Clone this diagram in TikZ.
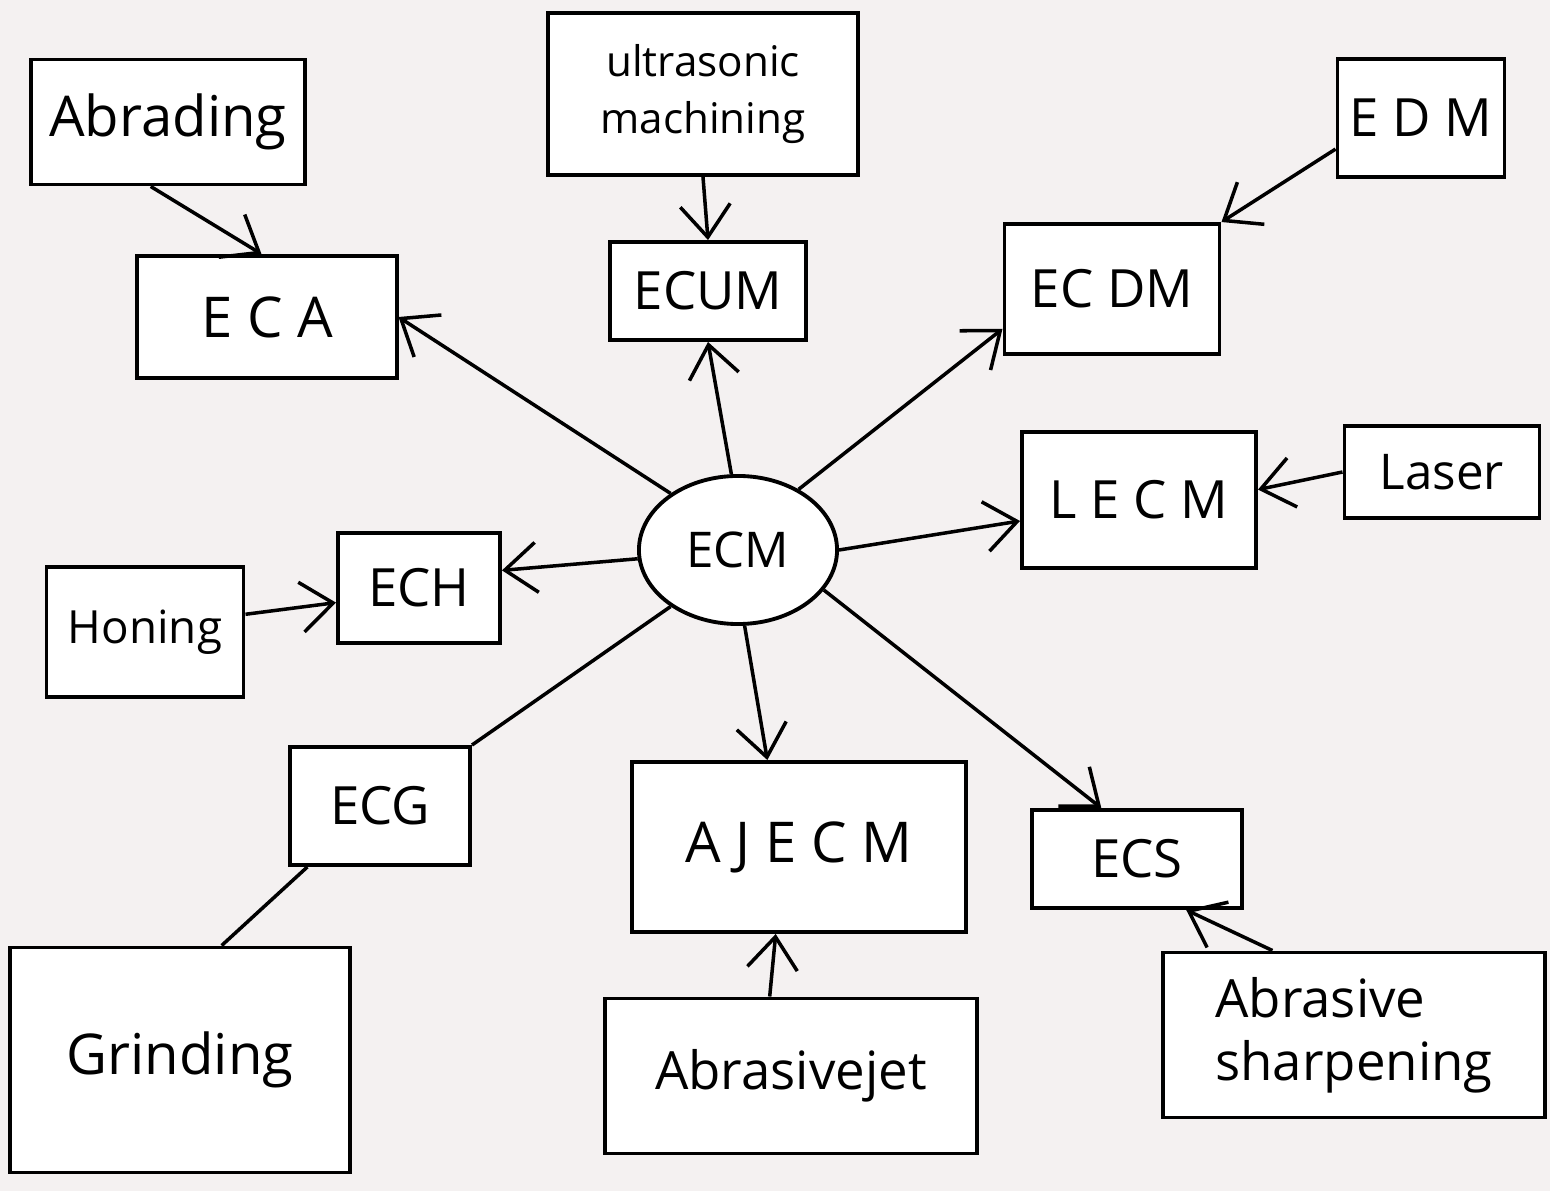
\documentclass[tikz,border=0pt]{standalone}
\usepackage{fontspec}
\setmainfont{Open Sans}
\usetikzlibrary{shapes.geometric,arrows.meta}
\newcommand{\fsz}[2]{\fontsize{#1}{#2}\selectfont}
\tikzset{
  box/.style={draw=black, line width=1.1pt, fill=white, inner sep=2pt, align=center},
  oval/.style={draw=black, line width=1.1pt, fill=white, ellipse},
  arr/.style={draw=black, line width=1pt, -{Straight Barb[length=3.2mm,width=5mm,line width=1pt]}},
  ln/.style={draw=black, line width=1pt},
}
\begin{document}
\begin{tikzpicture}[x=0.01cm,y=-0.01cm]
\useasboundingbox (0,0) rectangle (1550,1191);
\fill[color={rgb,255:red,244;green,241;blue,241}] (0,0) rectangle (1550,1191);

% nodes
\node[box, minimum width=2.73cm, minimum height=1.25cm, font=\fsz{16}{19}] (abr) at (168,122) {Abrading};
\node[box, minimum width=2.59cm, minimum height=1.22cm, font=\fsz{16}{19}] (eca) at (267,317) {E C A};
\node[box, minimum width=3.1cm, minimum height=1.62cm, font=\fsz{12}{16}] (ult) at (703,94) {ultrasonic\\machining};
\node[box, minimum width=1.96cm, minimum height=0.98cm, font=\fsz{15}{18}] (ecum) at (708,291) {ECUM};
\node[box, minimum width=1.67cm, minimum height=1.18cm, font=\fsz{15}{18}] (edm) at (1421,118) {E D M};
\node[box, minimum width=2.15cm, minimum height=1.3cm, font=\fsz{15}{18}] (ecdm) at (1112,289) {EC DM};
\node[box, minimum width=2.34cm, minimum height=1.36cm, font=\fsz{15}{18}] (lecm) at (1139,500) {L E C M};
\node[box, minimum width=1.95cm, minimum height=0.92cm, font=\fsz{14}{17}] (laser) at (1442,472) {Laser};
\node[oval, minimum width=1.98cm, minimum height=1.48cm, font=\fsz{14}{17}] (ecm) at (738,550) {ECM};
\node[box, minimum width=1.62cm, minimum height=1.1cm, font=\fsz{15}{18}] (ech) at (419,588) {ECH};
\node[box, minimum width=1.97cm, minimum height=1.3cm, font=\fsz{13}{16}] (hon) at (145,632) {Honing};
\node[box, minimum width=1.8cm, minimum height=1.18cm, font=\fsz{15}{18}] (ecg) at (380,806) {ECG};
\node[box, minimum width=3.4cm, minimum height=2.25cm, font=\fsz{16}{19}] (grind) at (180,1060) {Grinding};
\node[box, minimum width=3.34cm, minimum height=1.7cm, font=\fsz{16}{19}] (ajecm) at (799,847) {A J E C M};
\node[box, minimum width=3.72cm, minimum height=1.55cm, font=\fsz{15}{18}] (abj) at (791,1076) {Abrasivejet};
\node[box, minimum width=2.1cm, minimum height=0.98cm, font=\fsz{15}{18}] (ecs) at (1137,859) {ECS};
\node[box, minimum width=3.82cm, minimum height=1.65cm, font=\fsz{15}{18}, align=left] (abs) at (1354,1035) {Abrasive\\sharpening};

% connectors
\draw[arr] (abr.-105) -- (eca.95);
\draw[arr] (ecm.140) -- (eca.east);
\draw[arr] (ult.south) -- (ecum.north);
\draw[arr] (ecm.95) -- (ecum.south);
\draw[arr] (edm.-160) -- (ecdm.north east);
\draw[arr] (ecm.45) -- (ecdm.-160);
\draw[arr] (laser.west) -- (lecm.5);
\draw[arr] (ecm.east) -- (lecm.190);
\draw[arr] (ecm.185) -- (ech.12);
\draw[arr] (hon.10) -- (ech.-170);
\draw[ln] (ecm.-140) -- (ecg.north east);
\draw[ln] (ecg.-140) -- (grind.70);
\draw[arr] (ecm.-85) -- (ajecm.110);
\draw[arr] (abj.105) -- (ajecm.-105);
\draw[arr] (ecm.-25) -- (ecs.125);
\draw[arr] (abs.134) -- (ecs.-46);
\end{tikzpicture}
\end{document}
